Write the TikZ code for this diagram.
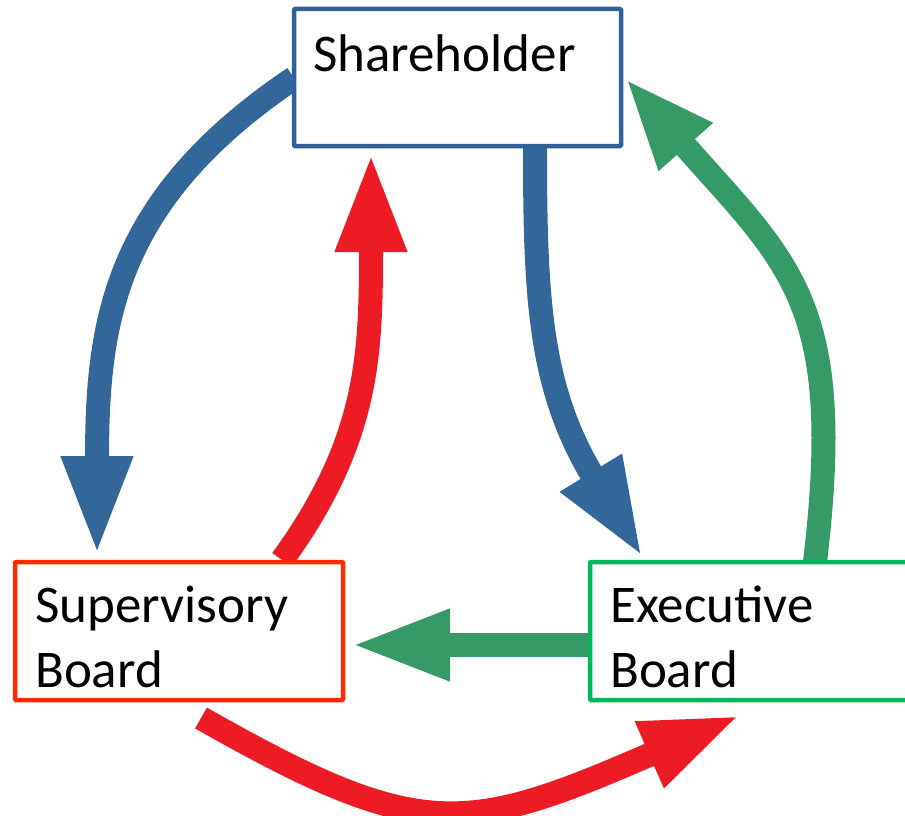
\documentclass[tikz,border=0pt]{standalone}
\usepackage{fontspec}
\setmainfont{Carlito}
\usetikzlibrary{arrows.meta,calc,backgrounds}
\definecolor{arblue}{HTML}{336699}
\definecolor{arred}{HTML}{ED1C24}
\definecolor{argreen}{HTML}{359A66}
\definecolor{bxblue}{HTML}{2F6096}
\definecolor{bxred}{HTML}{FF2A00}
\definecolor{bxgreen}{HTML}{00B85C}
\tikzset{
  box/.style={draw, line width=4.5pt, fill=white, rounded corners=1pt, inner sep=0pt, outer sep=0pt, anchor=north west},
  lbl/.style={inner sep=0pt, anchor=base west, font=\fontsize{53}{65}\selectfont, text=black},
  conn/.style={line width=24pt, -{Triangle[length=100pt,width=65pt]}},
}
\begin{document}
\begin{tikzpicture}[x=1pt,y=-1pt]
\useasboundingbox (0,0) rectangle (905,816);
\clip (0,0) rectangle (905,816);
% boxes
\node[box, draw=bxblue, minimum width=327pt, minimum height=137pt] (sh) at (294,9) {};
\node[box, draw=bxred, minimum width=328pt, minimum height=138pt] (sb) at (15,562) {};
\node[box, draw=bxgreen, minimum width=330pt, minimum height=138pt] (eb) at (590,562) {};
% labels
\node[lbl] (shT) at (313,72) {Shareholder};
\node[lbl] (sbT) at (35,622) {\begin{tabular}[t]{@{}l@{}}Supervisory\\Board\end{tabular}};
\node[lbl] (ebT) at (610,622) {\begin{tabular}[t]{@{}l@{}}Executive\\Board\end{tabular}};
% connectors
\begin{pgfonlayer}{background}
\draw[conn, arblue] ($(sh.north west)+(0,69)$) .. controls +(-183,123) and +(0,-230) .. ($(sb.north west)+(82,-6)$);
\draw[conn, arblue] ($(sh.south west)+(241,0)$) .. controls +(0,150) and +(-104,-170) .. ($(eb.north west)+(53,-4)$);
\draw[conn, arred] ($(sb.north west)+(267,-2)$) .. controls +(88,-121) and +(0,200) .. ($(sh.south west)+(77,6)$);
\draw[conn, argreen, -{Triangle[length=92pt,width=65pt]}] ($(eb.north west)+(225,0)$) .. controls +(31,-260) and +(165,187) .. ($(sh.north east)+(4,69)$);
\draw[conn, argreen] ($(eb.north west)+(2,83)$) -- ($(sb.north east)+(7,83)$);
\draw[conn, arred] ($(sb.south west)+(186,18)$) .. controls +(220,125) and +(-276,120) .. ($(eb.south west)+(151,15)$);
\end{pgfonlayer}
\end{tikzpicture}
\end{document}
